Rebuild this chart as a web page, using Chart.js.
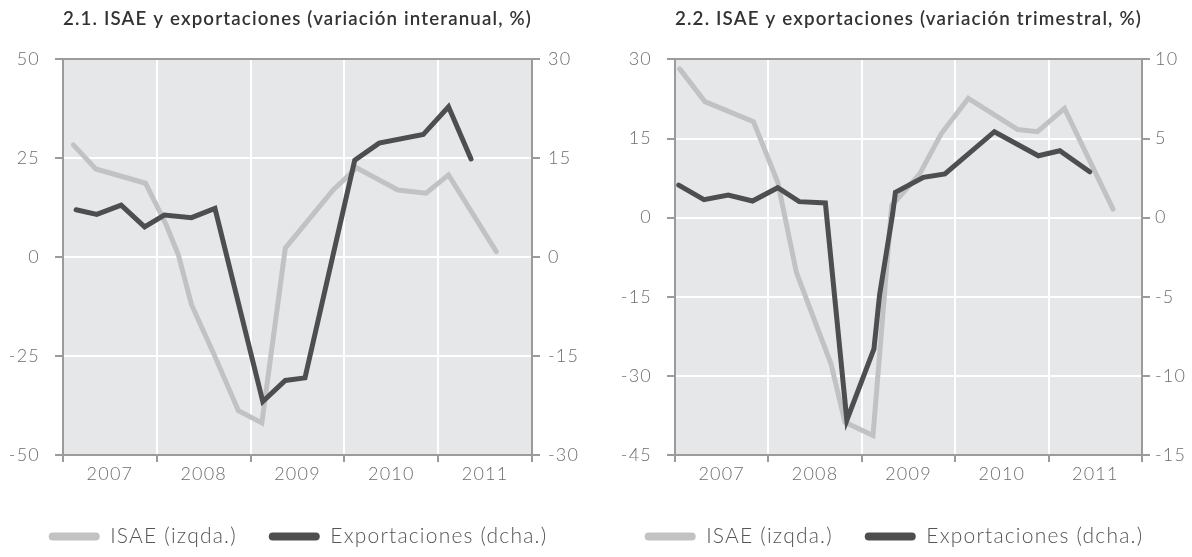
<!DOCTYPE html>
<html lang="es">
<head>
<meta charset="utf-8">
<title>ISAE y exportaciones</title>
<script src="https://cdn.jsdelivr.net/npm/chart.js@4.4.1/dist/chart.umd.min.js"></script>
<style>
  html, body { margin: 0; padding: 0; background: #fff; }
  .fila { display: flex; width: 1192px; height: 557px; }
  canvas { display: block; }
</style>
</head>
<body>
<div class="fila">
  <canvas id="chartInteranual" width="596" height="557"></canvas>
  <canvas id="chartTrimestral" width="596" height="557"></canvas>
</div>
<script>
// 2.1 variación interanual
const isaeFechasInteranual = [2007.11, 2007.35, 2007.88, 2008.10, 2008.23, 2008.37, 2008.62, 2008.87, 2009.12, 2009.37, 2009.88, 2010.13, 2010.57, 2010.87, 2011.11, 2011.62];
const isaeInteranual = [28.4, 22.3, 18.7, 8.2, 0.6, -12.0, -25.1, -38.8, -41.9, 2.3, 17.0, 22.6, 17.0, 16.2, 20.8, 1.4];
const expFechasInteranual = [2007.14, 2007.36, 2007.62, 2007.87, 2008.08, 2008.37, 2008.62, 2009.13, 2009.37, 2009.58, 2010.11, 2010.37, 2010.84, 2011.11, 2011.35];
const expInteranual = [7.2, 6.5, 7.9, 4.6, 6.4, 6.0, 7.4, -21.9, -18.7, -18.3, 14.7, 17.3, 18.6, 22.8, 14.9];

// 2.2 variación trimestral
const isaeFechasTrimestral = [2007.05, 2007.32, 2007.84, 2008.10, 2008.30, 2008.67, 2008.82, 2009.12, 2009.32, 2009.62, 2009.85, 2010.14, 2010.67, 2010.88, 2011.17, 2011.69];
const isaeTrimestral = [28.2, 22.0, 18.2, 6.7, -10.4, -27.7, -38.8, -41.3, 2.3, 8.3, 15.9, 22.6, 16.7, 16.3, 20.7, 1.6];
const expFechasTrimestral = [2007.04, 2007.31, 2007.57, 2007.83, 2008.10, 2008.33, 2008.61, 2008.84, 2009.13, 2009.19, 2009.33, 2009.36, 2009.66, 2009.89, 2010.42, 2010.89, 2011.12, 2011.44];
const expTrimestral = [2.06, 1.14, 1.43, 1.05, 1.89, 1.01, 0.93, -12.8, -8.3, -4.9, 0.23, 1.6, 2.55, 2.76, 5.43, 3.91, 4.23, 2.9];

// ejes
const anios = [2007, 2008, 2009, 2010, 2011];
const ejeInteranualIzq = { min: -50, max: 50, step: 25 };
const ejeInteranualDer = { min: -30, max: 30, step: 15 };
const ejeTrimestralIzq = { min: -45, max: 30, step: 15 };
const ejeTrimestralDer = { min: -15, max: 10, step: 5 };

const COLOR_MARCO = '#9b9b9b';
const COLOR_ISAE = '#c1c2c4';
const COLOR_EXP = '#4e4e50';
const COLOR_FONDO = '#e6e7e9';
const COLOR_TEXTO = '#6d6d6d';
const ESPACIADO = '1.2px';

// pinta el fondo gris del área del gráfico
const fondoPlugin = {
  id: 'fondo',
  beforeDraw(chart) {
    const { ctx, chartArea } = chart;
    ctx.save();
    ctx.fillStyle = COLOR_FONDO;
    ctx.fillRect(chartArea.left, chartArea.top, chartArea.right - chartArea.left, chartArea.bottom - chartArea.top);
    ctx.restore();
  }
};

// la tipografía del original es algo más abierta: un poco de espaciado entre letras
const espaciadoPlugin = {
  id: 'espaciado',
  beforeUpdate(chart) { chart.ctx.letterSpacing = ESPACIADO; },
  beforeDraw(chart) { chart.ctx.letterSpacing = ESPACIADO; }
};

function puntos(fechas, valores) {
  return fechas.map((f, i) => ({ x: f, y: valores[i] }));
}

function createDualChart(canvasId, cfg) {
  const ctx = document.getElementById(canvasId).getContext('2d');
  const tickFont = { family: 'Lato', size: 18, weight: '300' };
  const primerAnio = anios[0];
  const ultimoAnio = anios[anios.length - 1] + 1;

  return new Chart(ctx, {
    type: 'line',
    data: {
      datasets: [
        {
          label: 'Exportaciones (dcha.)',
          data: puntos(cfg.expFechas, cfg.exp),
          borderColor: COLOR_EXP,
          backgroundColor: COLOR_EXP,
          borderWidth: 5,
          pointRadius: 0,
          tension: 0,
          borderCapStyle: 'round',
          yAxisID: 'y1'
        },
        {
          label: 'ISAE (izqda.)',
          data: puntos(cfg.isaeFechas, cfg.isae),
          borderColor: COLOR_ISAE,
          backgroundColor: COLOR_ISAE,
          borderWidth: 5,
          pointRadius: 0,
          tension: 0,
          borderCapStyle: 'round',
          yAxisID: 'y'
        }
      ]
    },
    options: {
      responsive: false,
      animation: false,
      devicePixelRatio: 1,
      layout: { padding: 0 },
      plugins: {
        tooltip: { enabled: false },
        title: {
          display: true,
          text: cfg.titulo,
          fullSize: false,
          color: '#333333',
          font: { family: 'Lato', size: 19.5, weight: '600' },
          padding: { top: 7, bottom: 29 }
        },
        legend: {
          position: 'bottom',
          labels: {
            boxWidth: 51,
            boxHeight: 8,
            useBorderRadius: true,
            borderRadius: 4,
            padding: 32,
            color: '#555555',
            font: { family: 'Lato', size: 21, weight: '300' },
            sort: (a, b) => b.datasetIndex - a.datasetIndex,
            generateLabels: (chart) =>
              Chart.defaults.plugins.legend.labels.generateLabels(chart).map(l => ({ ...l, lineWidth: 0 }))
          }
        }
      },
      scales: {
        x: {
          type: 'linear',
          min: primerAnio,
          max: ultimoAnio,
          afterFit: (scale) => { scale.height = 39; },
          ticks: {
            stepSize: 0.5,
            autoSkip: false,
            maxRotation: 0,
            padding: 1,
            color: COLOR_TEXTO,
            font: tickFont,
            callback: (v) => Number.isInteger(v) ? '' : String(Math.floor(v))
          },
          grid: {
            lineWidth: 2,
            tickLength: 7,
            color: (c) => (Number.isInteger(c.tick.value) && c.tick.value > primerAnio && c.tick.value < ultimoAnio) ? '#ffffff' : 'rgba(0,0,0,0)',
            tickColor: (c) => Number.isInteger(c.tick.value) ? COLOR_MARCO : 'rgba(0,0,0,0)'
          },
          border: { color: COLOR_MARCO, width: 2 }
        },
        y: {
          position: 'left',
          min: cfg.ejeIzq.min,
          max: cfg.ejeIzq.max,
          afterFit: (scale) => { scale.width = cfg.anchoIzq; },
          ticks: { stepSize: cfg.ejeIzq.step, padding: 15, color: COLOR_TEXTO, font: tickFont },
          grid: {
            lineWidth: 2,
            tickLength: 8,
            color: (c) => (c.tick.value === cfg.ejeIzq.max || c.tick.value === cfg.ejeIzq.min) ? COLOR_MARCO : '#ffffff',
            tickColor: COLOR_MARCO
          },
          border: { color: COLOR_MARCO, width: 2 }
        },
        y1: {
          position: 'right',
          min: cfg.ejeDer.min,
          max: cfg.ejeDer.max,
          afterFit: (scale) => { scale.width = cfg.anchoDer; },
          ticks: { stepSize: cfg.ejeDer.step, padding: cfg.padDer, color: COLOR_TEXTO, font: tickFont },
          grid: { drawOnChartArea: false, lineWidth: 2, tickLength: 8, tickColor: COLOR_MARCO },
          border: { color: COLOR_MARCO, width: 2 }
        }
      }
    },
    plugins: [fondoPlugin, espaciadoPlugin]
  });
}

document.addEventListener('DOMContentLoaded', () => {
  createDualChart('chartInteranual', {
    titulo: '2.1. ISAE y exportaciones (variación interanual, %)',
    isaeFechas: isaeFechasInteranual, isae: isaeInteranual,
    expFechas: expFechasInteranual, exp: expInteranual,
    ejeIzq: ejeInteranualIzq, ejeDer: ejeInteranualDer,
    anchoIzq: 63, anchoDer: 64, padDer: 8
  });
  createDualChart('chartTrimestral', {
    titulo: '2.2. ISAE y exportaciones (variación trimestral, %)',
    isaeFechas: isaeFechasTrimestral, isae: isaeTrimestral,
    expFechas: expFechasTrimestral, exp: expTrimestral,
    ejeIzq: ejeTrimestralIzq, ejeDer: ejeTrimestralDer,
    anchoIzq: 79, anchoDer: 50, padDer: 5
  });
});
</script>
</body>
</html>
